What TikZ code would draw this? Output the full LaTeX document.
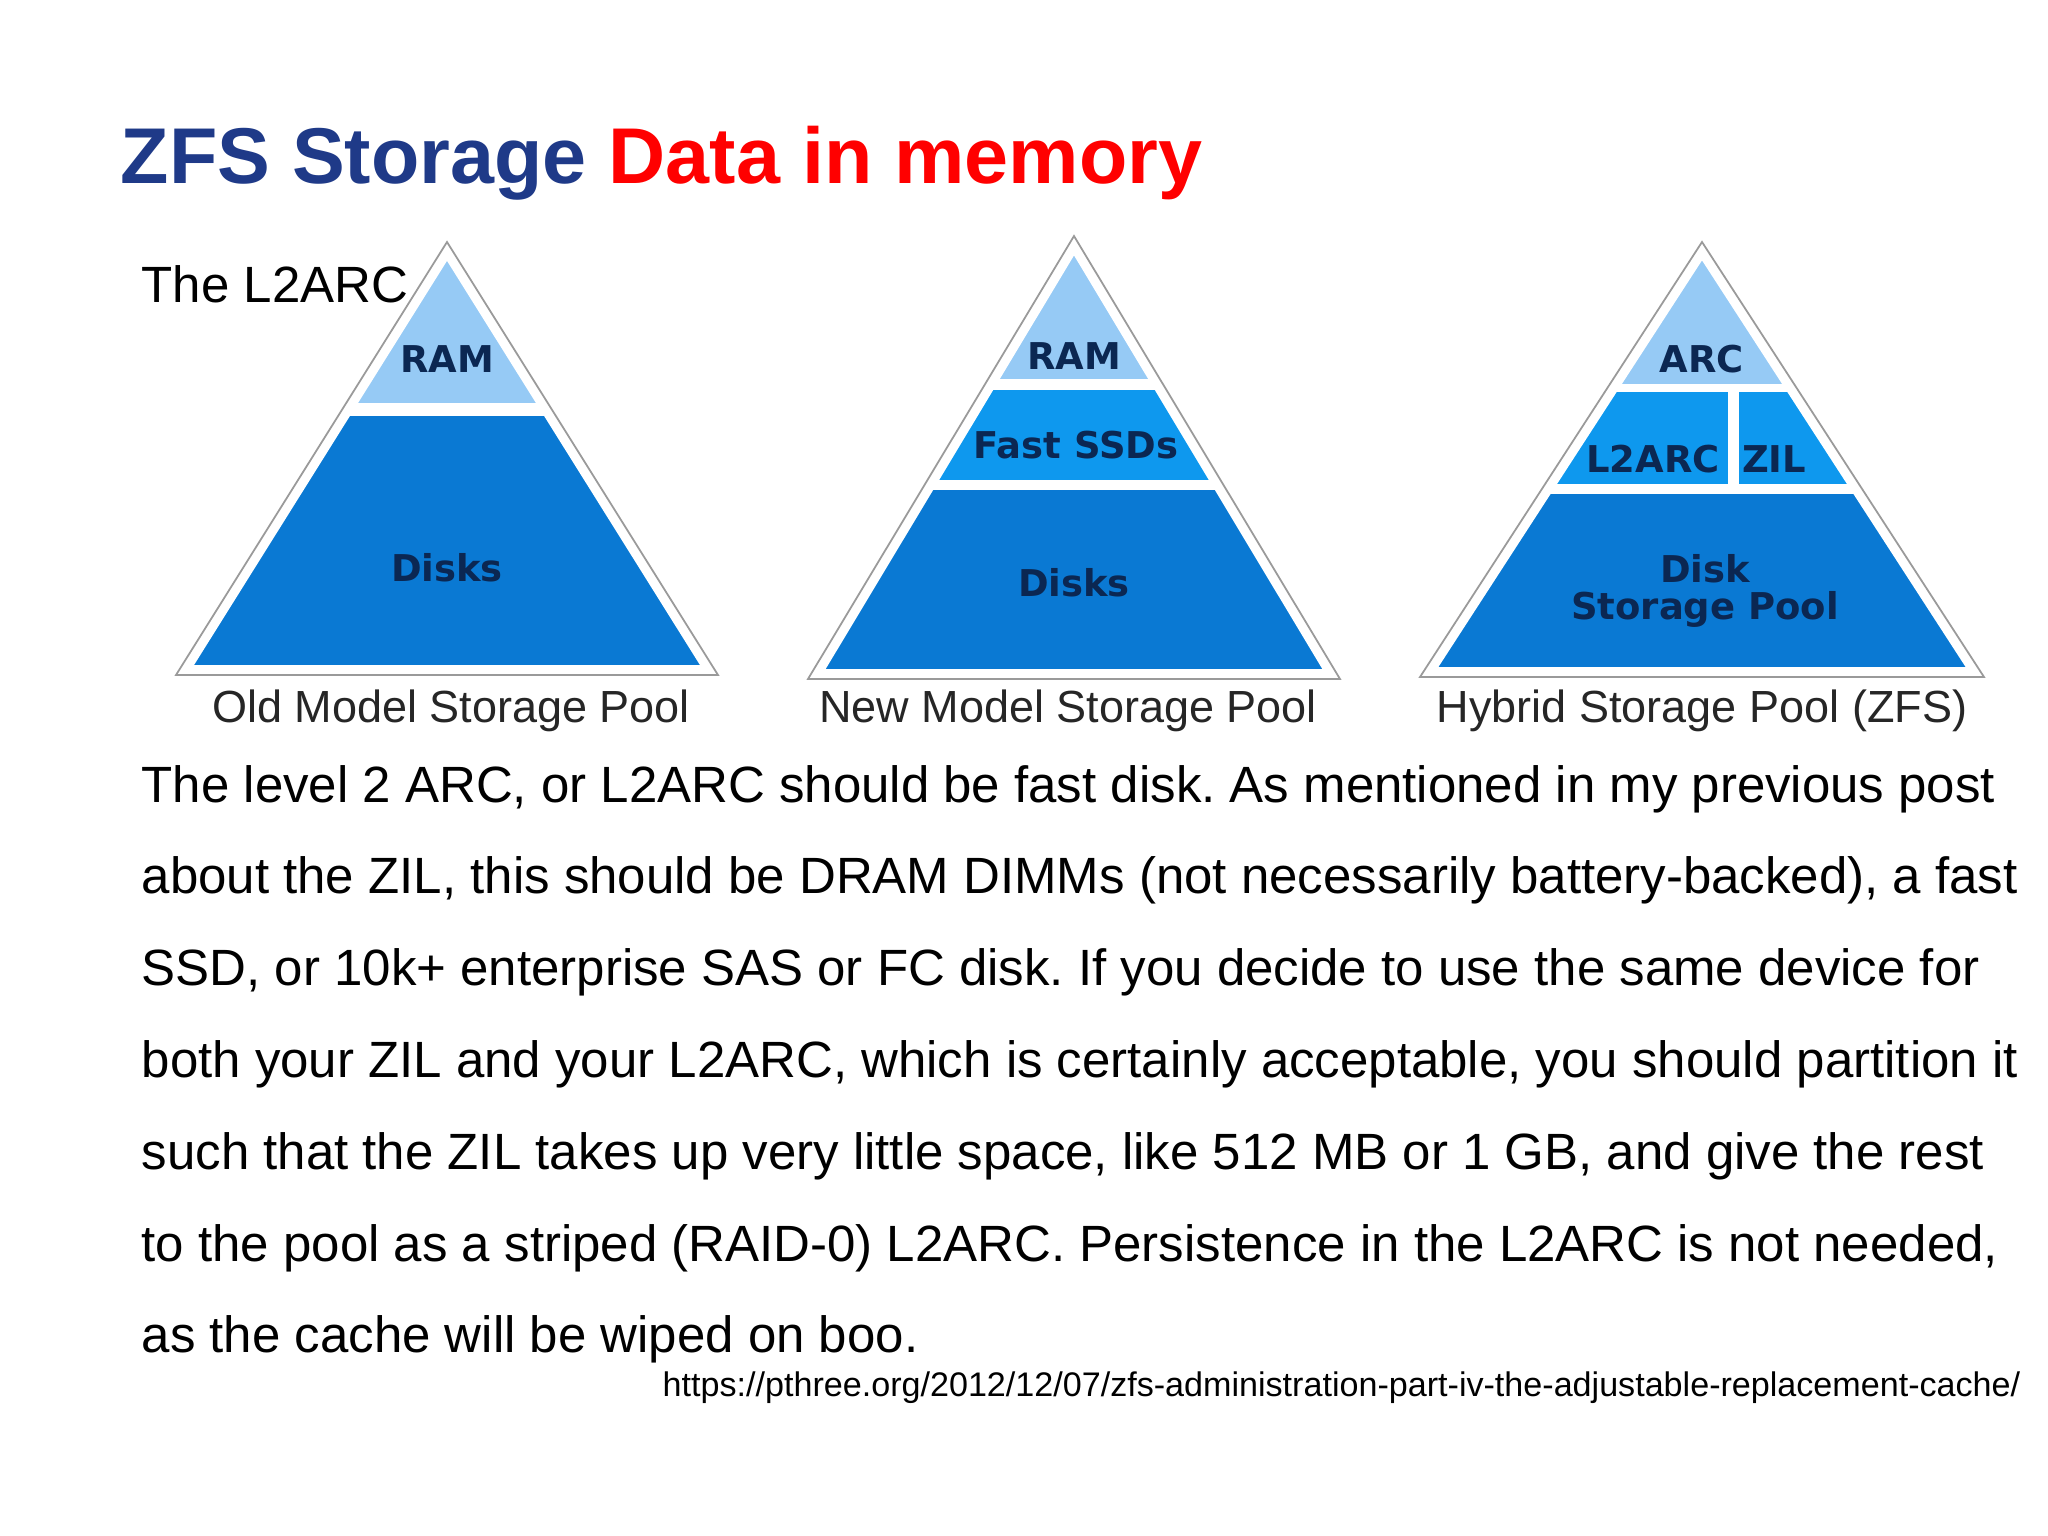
\documentclass[tikz,border=0pt]{standalone}
\usepackage{fontspec}
\setmainfont{Liberation Sans}
\newfontfamily\tierfont{DejaVu Sans}
\usepackage{tikz}
\usepackage{xcolor}
\usetikzlibrary{positioning}
\definecolor{titleblue}{HTML}{1F3A88}
\definecolor{titlered}{HTML}{FF0000}
\definecolor{ramblue}{HTML}{96CAF5}
\definecolor{ssdblue}{HTML}{0E98EE}
\definecolor{diskblue}{HTML}{0A79D3}
\definecolor{tiertext}{HTML}{0B2752}
\definecolor{edgegray}{HTML}{9A9A9A}
\frenchspacing

\begin{document}
\begin{tikzpicture}[x=0.01cm,y=-0.01cm,every node/.style={inner sep=0pt},
    tier/.style={font=\tierfont\bfseries\fontsize{10.5}{10.4}\selectfont,text=tiertext,align=center},
    poolcap/.style={font=\fontsize{12.8}{14}\selectfont,text=black!85,anchor=base},
    bodyline/.style={font=\fontsize{14.5}{17}\selectfont,anchor=base west},
    edge/.style={draw=edgegray,line width=0.5pt},
    inset/.style={draw=white,line width=0.2cm}]
    \useasboundingbox[fill=white] (0,0) rectangle (2048,1536);
    \node[anchor=base west,font=\bfseries\fontsize{22.5}{26}\selectfont] (title) at (120,183)
      {\textcolor{titleblue}{ZFS Storage} \textcolor{titlered}{Data in memory}};
    % old model
    \begin{scope}[shift={(447,242)}]
      \begin{scope}
        \clip (0,0) -- (271,433) -- (-271,433) -- cycle;
        \fill[ramblue] (-300,0) rectangle (300,161);
        \fill[diskblue] (-300,174) rectangle (300,433);
        \draw[inset] (0,0) -- (271,433) -- (-271,433) -- cycle;
      \end{scope}
      \draw[edge] (0,0) -- (271,433) -- (-271,433) -- cycle;
      \node[tier] (ram1) at (0,117) {RAM};
      \node[tier] (disks1) at (0,326) {Disks};
      \node[poolcap] (pool1) at (4,480) {Old Model Storage Pool};
    \end{scope}
    % new model
    \begin{scope}[shift={(1074,236)}]
      \begin{scope}
        \clip (0,0) -- (266,443) -- (-266,443) -- cycle;
        \fill[ramblue] (-300,0) rectangle (300,143);
        \fill[ssdblue] (-300,154) rectangle (300,244);
        \fill[diskblue] (-300,254) rectangle (300,443);
        \draw[inset] (0,0) -- (266,443) -- (-266,443) -- cycle;
      \end{scope}
      \draw[edge] (0,0) -- (266,443) -- (-266,443) -- cycle;
      \node[tier] (ram2) at (0,120) {RAM};
      \node[tier] (ssd2) at (2,209) {Fast SSDs};
      \node[tier] (disks2) at (0,347) {Disks};
      \node[poolcap] (pool2) at (-6,486) {New Model Storage Pool};
    \end{scope}
    % hybrid
    \begin{scope}[shift={(1702,242)}]
      \begin{scope}
        \clip (0,0) -- (282,435) -- (-282,435) -- cycle;
        \fill[ramblue] (-300,0) rectangle (300,142);
        \fill[ssdblue] (-300,150) rectangle (26,242);
        \fill[ssdblue] (37,150) rectangle (300,242);
        \fill[diskblue] (-300,252) rectangle (300,435);
        \draw[inset] (0,0) -- (282,435) -- (-282,435) -- cycle;
      \end{scope}
      \draw[edge] (0,0) -- (282,435) -- (-282,435) -- cycle;
      \node[tier] (arc3) at (0,117) {ARC};
      \node[tier] (l2arc3) at (-49,217) {L2ARC};
      \node[tier] (zil3) at (72,217) {ZIL};
      \node[tier] (disks3) at (3,349) {Disk\\Storage Pool};
      \node[poolcap] (pool3) at (0,480) {Hybrid Storage Pool (ZFS)};
    \end{scope}
    \node[bodyline] (sub) at (141,302) {The L2ARC};
    \node[bodyline] (l1) at (141,802) {The level 2 ARC, or L2ARC should be fast disk. As mentioned in my previous post};
    \node[bodyline] (l2) at (141,893.8) {about the ZIL, this should be DRAM DIMMs (not necessarily battery-backed), a fast};
    \node[bodyline] (l3) at (141,985.6) {SSD, or 10k+ enterprise SAS or FC disk. If you decide to use the same device for};
    \node[bodyline] (l4) at (141,1077.4) {both your ZIL and your L2ARC, which is certainly acceptable, you should partition it};
    \node[bodyline] (l5) at (141,1169.2) {such that the ZIL takes up very little space, like 512 MB or 1 GB, and give the rest};
    \node[bodyline] (l6) at (141,1261) {to the pool as a striped (RAID-0) L2ARC. Persistence in the L2ARC is not needed,};
    \node[bodyline] (l7) at (141,1352.8) {as the cache will be wiped on boo.};
    \node[anchor=base west,font=\fontsize{9.7}{11}\selectfont] (url) at (662,1396)
      {https://pthree.org/2012/12/07/zfs-administration-part-iv-the-adjustable-replacement-cache/};
  \end{tikzpicture}
\end{document}
